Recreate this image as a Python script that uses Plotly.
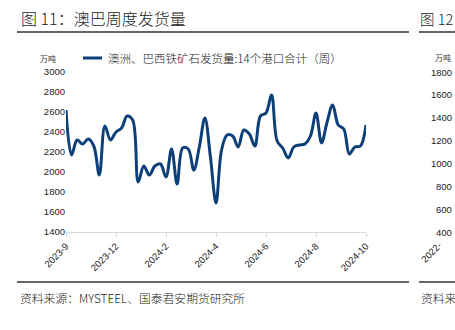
import pandas as pd
import plotly.graph_objects as go

# ---------------- data ----------------
dates = pd.date_range("2023-09-29", periods=55, freq="7D")
shipments = [2620, 2170, 2320, 2280, 2330, 2260, 1970, 2460, 2320, 2400,
             2440, 2560, 2520, 1900, 2060, 1970, 2060, 2080, 1950, 2230,
             1880, 2240, 2230, 2020, 2250, 2540, 2150, 1690, 2220, 2370,
             2360, 2250, 2420, 2380, 2260, 2560, 2590, 2770, 2310, 2240,
             2140, 2250, 2270, 2280, 2360, 2590, 2290, 2500, 2670, 2470,
             2430, 2180, 2250, 2260, 2470]
series_name = "澳洲、巴西铁矿石发货量:14个港口合计（周）"
tick_idx = list(range(0, 55, 9))
tick_vals = [dates[i] for i in tick_idx]
tick_text = [f"{d.year}-{d.month}" for d in tick_vals]
y_ticks = [1400, 1600, 1800, 2000, 2200, 2400, 2600, 2800, 3000]
right_y_ticks = ["1800", "1600", "1400", "1200", "1000", "800", "600", "400"]

title = "图 11：澳巴周度发货量"
unit = "万吨"
source = "资料来源：MYSTEEL、国泰君安期货研究所"

# ---------------- layout helpers ----------------
W, H = 455, 330
L, R, T, B = 66, 366, 72, 232
CJK = "Noto Sans CJK SC"
LAT = "Liberation Sans, Arial, sans-serif"
LINE_COLOR = "#0D3F78"


def px(x):
    return (x - L) / (R - L)


def py(y):
    return (B - y) / (B - T)


fig = go.Figure()
fig.add_trace(go.Scatter(
    x=dates, y=shipments, mode="lines", name=series_name,
    line=dict(color=LINE_COLOR, width=3, shape="spline", smoothing=1.0),
    showlegend=False,
))

shapes = []
annotations = []

# horizontal rules
for y in (32, 282):
    shapes.append(dict(type="line", xref="paper", yref="paper",
                       x0=px(17), x1=px(409), y0=py(y), y1=py(y),
                       line=dict(color="#333333", width=1.3)))
    shapes.append(dict(type="line", xref="paper", yref="paper",
                       x0=px(419), x1=px(460), y0=py(y), y1=py(y),
                       line=dict(color="#333333", width=1.3)))

# manual legend
shapes.append(dict(type="line", xref="paper", yref="paper",
                   x0=px(83), x1=px(102), y0=py(58), y1=py(58),
                   line=dict(color=LINE_COLOR, width=3)))
annotations.append(dict(text=series_name, xref="paper", yref="paper",
                        x=px(106), y=py(58), xanchor="left", yanchor="middle",
                        showarrow=False,
                        font=dict(family=CJK, size=11.5, weight=300, color="#222222")))

# titles / texts
annotations.append(dict(text=title, xref="paper", yref="paper",
                        x=px(19), y=py(18), xanchor="left", yanchor="middle",
                        showarrow=False,
                        font=dict(family=CJK, size=16, weight=300, color="#222222")))
annotations.append(dict(text=unit, xref="paper", yref="paper",
                        x=px(58), y=py(58), xanchor="right", yanchor="middle",
                        showarrow=False, font=dict(family=CJK, size=8, color="#333333")))
annotations.append(dict(text=source, xref="paper", yref="paper",
                        x=px(18), y=py(297), xanchor="left", yanchor="middle",
                        showarrow=False,
                        font=dict(family=CJK, size=11.8, weight=300, color="#222222")))

# partial neighbouring chart at right edge
annotations.append(dict(text="图 12", xref="paper", yref="paper",
                        x=px(418), y=py(18), xanchor="left", yanchor="middle",
                        showarrow=False,
                        font=dict(family=CJK, size=14.5, weight=300, color="#222222")))
annotations.append(dict(text=unit, xref="paper", yref="paper",
                        x=px(433), y=py(57), xanchor="left", yanchor="middle",
                        showarrow=False, font=dict(family=CJK, size=8, color="#333333")))
for k, lab in enumerate(right_y_ticks):
    yy = 72 + k * (232 - 72) / 7
    annotations.append(dict(text=lab, xref="paper", yref="paper",
                            x=px(454), y=py(yy), xanchor="right", yanchor="middle",
                            showarrow=False, font=dict(family=LAT, size=9.5, color="#222222")))
annotations.append(dict(text="2022-", xref="paper", yref="paper",
                        x=px(446), y=py(237), xanchor="right", yanchor="top",
                        textangle=-45, showarrow=False,
                        font=dict(family=LAT, size=9.5, color="#222222")))
annotations.append(dict(text="资料来", xref="paper", yref="paper",
                        x=px(419), y=py(297), xanchor="left", yanchor="middle",
                        showarrow=False,
                        font=dict(family=CJK, size=11.8, weight=300, color="#222222")))

fig.update_layout(
    width=W, height=H,
    margin=dict(l=L, r=W - R, t=T, b=H - B),
    paper_bgcolor="white", plot_bgcolor="white",
    showlegend=False,
    shapes=shapes, annotations=annotations,
    xaxis=dict(
        range=[dates[0], dates[-1]],
        tickmode="array", tickvals=tick_vals, ticktext=tick_text,
        tickangle=-45, showgrid=False, zeroline=False,
        showline=True, linecolor="#D9D9D9", linewidth=1,
        ticks="outside", ticklen=4, tickcolor="#D9D9D9",
        tickfont=dict(family=LAT, size=9.5, color="#222222"),
    ),
    yaxis=dict(
        range=[1400, 3000], tickmode="array", tickvals=y_ticks,
        showgrid=False, zeroline=False, showline=False, ticks="",
        tickfont=dict(family=LAT, size=9.5, color="#222222"),
    ),
)

fig.write_html("out.html")
